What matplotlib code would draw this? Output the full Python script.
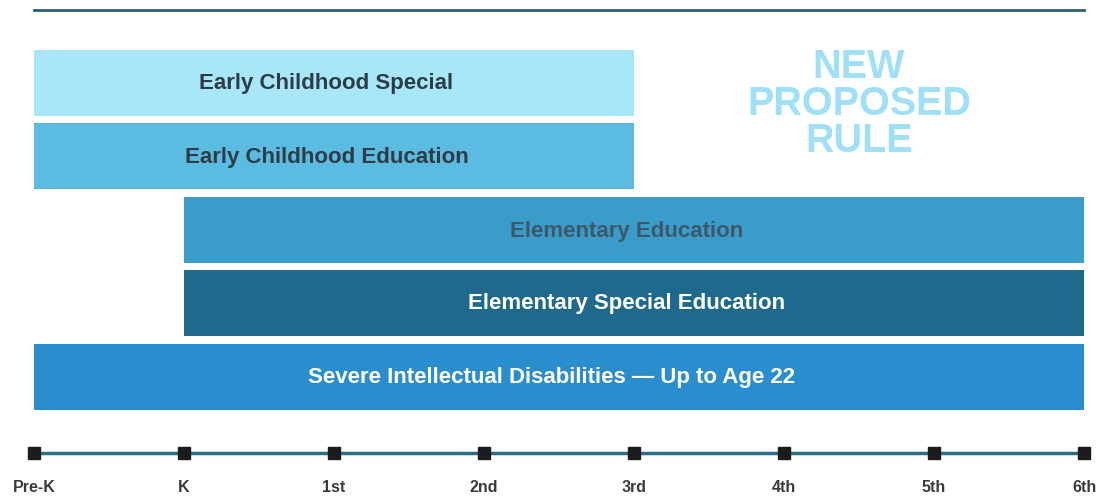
import matplotlib.pyplot as plt

# grade levels on the timeline
grades = ['Pre-K', 'K', '1st', '2nd', '3rd', '4th', '5th', '6th']

# licence bands: name, first grade index, last grade index
bands = ['Early Childhood Special', 'Early Childhood Education', 'Elementary Education',
         'Elementary Special Education', 'Severe Intellectual Disabilities \u2014 Up to Age 22']
starts = [0, 0, 1, 1, 0]
ends = [4, 4, 7, 7, 7]

colors = ['#a8e6f9', '#5bbbe0', '#3a9ccb', '#1f6a8c', '#2a8dcd']
text_colors = ['#2c3d47', '#2c3d47', '#3f5866', 'white', 'white']

plt.rcParams['font.family'] = ['Liberation Sans', 'DejaVu Sans']

fig = plt.figure(figsize=(11, 4.99), dpi=100)
ax = fig.add_axes([0, 0, 1, 1])
# 1 grade = 150 px, Pre-K sits at x=34 px
ax.set_xlim(-34 / 150, (1100 - 34) / 150)
ax.set_ylim(499, 0)
ax.axis('off')

row_centers = [82.5, 156, 230, 302.5, 377]
row_height = 66
for i, name in enumerate(bands):
    ax.barh(row_centers[i], ends[i] - starts[i], left=starts[i], height=row_height,
            color=colors[i], edgecolor='none')
    ax.text((starts[i] + ends[i]) / 2 - 0.05, row_centers[i] + 1, name, ha='center', va='center',
            fontsize=16, fontweight='bold', color=text_colors[i])

# top rule
ax.plot([0, 7], [10, 10], color='#2d5e6e', lw=2)

# timeline
x = list(range(len(grades)))
ax.plot(x, [453] * len(x), color='#2a6f86', lw=2.5, zorder=2)
ax.plot(x, [453] * len(x), 's', color='#1c1c1e', ms=8, zorder=3, lw=0)
for i, g in enumerate(grades):
    ax.text(i, 488, g, ha='center', va='center', fontsize=11.5, fontweight='bold', color='#3a3a3a')

ax.text(5.5, 104, 'NEW\nPROPOSED\nRULE', ha='center', va='center', fontsize=28.5,
        fontweight='bold', color='#9fe0f8', linespacing=0.98)

fig.savefig('out.png', dpi=100)
